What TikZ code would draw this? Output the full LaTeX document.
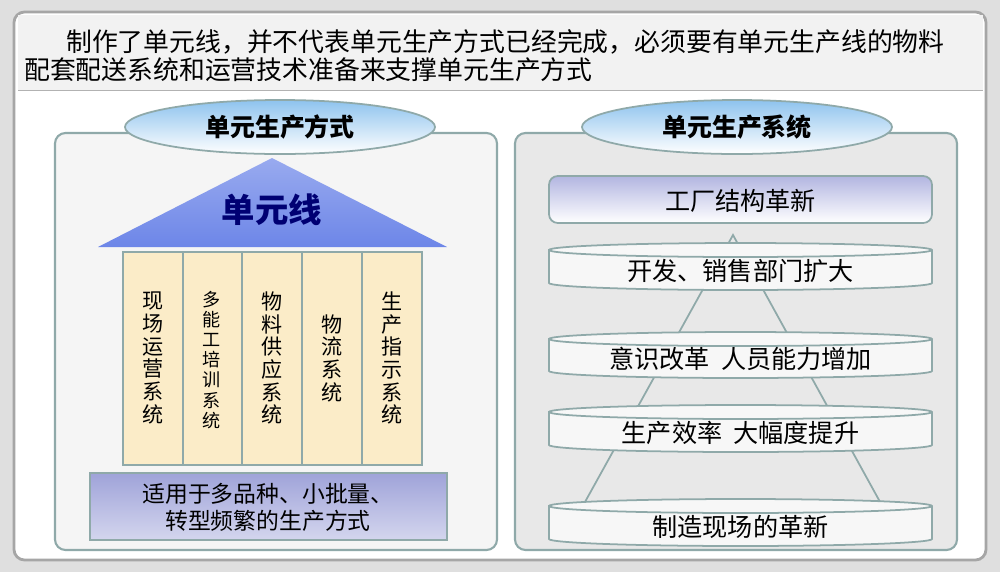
\documentclass[tikz,border=0pt]{standalone}
\usepackage{fontspec}
\setmainfont{Noto Sans CJK SC}
\usetikzlibrary{positioning,shapes.geometric}
\definecolor{edgegray}{HTML}{8FA9A9}
\definecolor{roofblue}{HTML}{6D86E8}
\definecolor{pillarfill}{HTML}{FBECC8}
\definecolor{lavender}{HTML}{9FA3D9}
\definecolor{skyblue}{HTML}{8EC3EE}
\tikzset{
  panel/.style={draw=edgegray, line width=1.2pt, rounded corners=6pt},
  titleoval/.style={ellipse, draw=edgegray, line width=1pt, top color=skyblue, bottom color=white,
    minimum width=62mm, minimum height=10.8mm, inner sep=0pt, font=\fontsize{14.2}{16}\selectfont\bfseries},
  pillar/.style={draw=edgegray, line width=1pt, fill=pillarfill},
  pillartext/.style={align=center, font=\fontsize{12}{12.9}\selectfont},
  layertext/.style={font=\fontsize{14.3}{16}\selectfont},
}
\newcommand\layer[4]{%
  \filldraw[draw=edgegray, line width=1pt, fill=white!94!gray]
    (549,#1+7) -- (549,#2-7) arc[start angle=180, end angle=360, x radius=191.5, y radius=-7] -- (932,#1+7)
    arc[start angle=0, end angle=180, x radius=191.5, y radius=-7] -- cycle;
  \draw[edgegray, line width=1pt] (549,#1+7) arc[start angle=180, end angle=360, x radius=191.5, y radius=-7];
  \node[layertext] (#3) at (740.5,{(#1+#2)/2+4}) {#4};}
\begin{document}
\begin{tikzpicture}[x=0.2mm, y=-0.2mm]
  \useasboundingbox (0,0) rectangle (1000,572);
  \fill[gray!25] (0,0) rectangle (1000,572);
  % outer frame and banner
  \draw[panel, fill=white, draw=gray!70, line width=1.6pt] (14,12) rectangle (986,560);
  \fill[gray!10] (18,15) rectangle (983,90);
  \draw[gray!60] (18,90) -- (983,90);
  \node[anchor=west, font=\fontsize{14.7}{17}\selectfont] (head1) at (60,42) {制作了单元线，并不代表单元生产方式已经完成，必须要有单元生产线的物料};
  \node[anchor=west, font=\fontsize{14.7}{17}\selectfont] (head2) at (18,70) {配套配送系统和运营技术准备来支撑单元生产方式};
  % left panel
  \draw[panel, fill=gray!8] (55,133) rectangle (497,550);
  \node[titleoval] (modeoval) at (280,127) {单元生产方式};
  \shade[top color=roofblue!70, bottom color=roofblue] (272,158) -- (447,247) -- (98,247) -- cycle;
  \node[font=\fontsize{19}{22}\selectfont\bfseries, text=blue!45!black] (roof) at (272,210) {单元线};
  \foreach \x in {123,183,242,302,362}
    \draw[pillar] (\x,252) rectangle ++(60,213);
  \node[pillartext] (p1) at (153,358) {现\\场\\运\\营\\系\\统};
  \node[pillartext, font=\fontsize{10.3}{11.4}\selectfont] (p2) at (212,360) {多\\能\\工\\培\\训\\系\\统};
  \node[pillartext] (p3) at (272,358) {物\\料\\供\\应\\系\\统};
  \node[pillartext] (p4) at (332,358) {物\\流\\系\\统};
  \node[pillartext] (p5) at (392,358) {生\\产\\指\\示\\系\\统};
  \shade[top color=lavender, bottom color=lavender!45] (90,473) rectangle (447,540);
  \draw[edgegray, line width=1pt] (90,473) rectangle (447,540);
  \node[align=center, font=\fontsize{13}{15.5}\selectfont] (base) at (268,507) {适用于多品种、小批量、\\转型频繁的生产方式};
  % right panel
  \draw[panel, fill=gray!18] (515,133) rectangle (957,550);
  \node[titleoval] (sysoval) at (737,127) {单元生产系统};
  \draw[rounded corners=5pt, top color=lavender!80, bottom color=white, draw=edgegray, line width=1pt]
    (549,176) rectangle (932,223);
  \node[layertext] (factory) at (740.5,201) {工厂结构革新};
  \draw[edgegray, line width=1pt] (575,520) -- (733,235) -- (890,520);
  \layer{243}{290}{sales}{开发、销售部门扩大}
  \layer{332}{378}{mind}{意识改革\ \ 人员能力增加}
  \layer{405}{452}{effic}{生产效率\ \ 大幅度提升}
  \layer{499}{546}{site}{制造现场的革新}
\end{tikzpicture}
\end{document}
